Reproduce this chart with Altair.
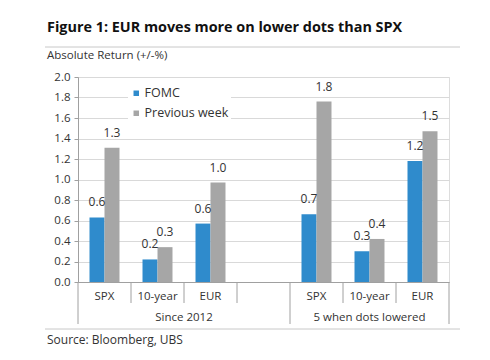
import altair as alt
import pandas as pd

# ---- data ----
slots = ["s1", "s2", "s3", "s4", "s5", "s6", "s7"]
categories = ["SPX", "10-year", "EUR", "", "SPX", "10-year", "EUR"]
groups = ["Since 2012"] * 4 + ["5 when dots lowered"] * 3
fomc = [0.63, 0.22, 0.57, None, 0.66, 0.30, 1.18]
prev = [1.31, 0.34, 0.97, None, 1.76, 0.42, 1.47]
series_names = ["FOMC", "Previous week"]
title_text = "Figure 1: EUR moves more on lower dots than SPX"
ytitle_text = "Absolute Return (+/-%)"
source_text = "Source: Bloomberg, UBS"
y_ticks = [0.0, 0.2, 0.4, 0.6, 0.8, 1.0, 1.2, 1.4, 1.6, 1.8, 2.0]

FONT = "Open Sans"
TXT = "#333333"
BLUE = "#2F8BCC"
GRAY = "#A6A6A6"
AXC = "#A0A0A0"

rows = []
for s, c, g, a, b in zip(slots, categories, groups, fomc, prev):
    if a is not None:
        rows.append({"slot": s, "cat": c, "group": g, "series": series_names[0], "value": a})
        rows.append({"slot": s, "cat": c, "group": g, "series": series_names[1], "value": b})
bars_df = pd.DataFrame(rows)

cats_df = pd.DataFrame({"slot": slots, "cat": categories, "group": groups})

# separators: long where a group starts, short otherwise
sep_rows = []
for i, (s, g) in enumerate(zip(slots, groups)):
    long = i == 0 or groups[i - 1] != g
    sep_rows.append({"slot": s, "kind": "long" if long else "short"})
sep_df = pd.DataFrame(sep_rows)
last_df = pd.DataFrame({"slot": [slots[-1]]})

xscale = alt.Scale(domain=slots, paddingInner=0, paddingOuter=0)
xoff_scale = alt.Scale(domain=series_names, paddingInner=0, paddingOuter=0.767)
yscale = alt.Scale(domain=[0, 2])

xaxis = alt.Axis(labels=False, ticks=False, title=None, domainColor=AXC, grid=False)
yaxis = alt.Axis(values=y_ticks, tickCount=20, format=".1f", title=None, grid=True, gridColor="#D9D9D9",
                 domainColor=AXC, tickColor=AXC, tickSize=4, labelPadding=4,
                 labelOverlap=False, labelFont=FONT, labelFontSize=11.5, labelColor=TXT)
X = alt.X("slot:N", scale=xscale, axis=xaxis)
Y = alt.Y("value:Q", scale=yscale, axis=yaxis)

bars = alt.Chart(bars_df).mark_bar().encode(
    x=X,
    xOffset=alt.XOffset("series:N", scale=xoff_scale),
    y=Y,
    color=alt.Color("series:N", scale=alt.Scale(domain=series_names, range=[BLUE, GRAY]),
                    legend=alt.Legend(title=None, orient="none", legendX=50, legendY=8,
                                      symbolType="square", symbolSize=30, symbolStrokeWidth=0,
                                      labelFont=FONT, labelFontSize=12.5, labelColor=TXT,
                                      labelOffset=2, rowPadding=7, fillColor="white", padding=2)),
)

labels = alt.Chart(bars_df).mark_text(font=FONT, fontSize=12, color=TXT, dy=-8, baseline="bottom").encode(
    x=X,
    xOffset=alt.XOffset("series:N", scale=xoff_scale),
    y=Y,
    text=alt.Text("value:Q", format=".1f"),
)

cat_text = alt.Chart(cats_df).mark_text(font=FONT, fontSize=11.5, color=TXT, baseline="alphabetic").encode(
    x=X,
    y=alt.value(223),
    text="cat:N",
)

seps_short = alt.Chart(sep_df).transform_filter("datum.kind == 'short'").mark_rule(color=AXC).encode(
    x=alt.X("slot:N", scale=xscale, axis=xaxis, bandPosition=0), y=alt.value(205), y2=alt.value(226))
seps_long = alt.Chart(sep_df).transform_filter("datum.kind == 'long'").mark_rule(color=AXC).encode(
    x=alt.X("slot:N", scale=xscale, axis=xaxis, bandPosition=0), y=alt.value(205), y2=alt.value(247))
sep_end = alt.Chart(last_df).mark_rule(color=AXC).encode(
    x=alt.X("slot:N", scale=xscale, axis=xaxis, bandPosition=1), y=alt.value(205), y2=alt.value(247))

g1 = alt.Chart(pd.DataFrame({"slot": [slots[2]], "t": [groups[0]]})).mark_text(
    font=FONT, fontSize=11.5, color=TXT, baseline="alphabetic").encode(
    x=alt.X("slot:N", scale=xscale, axis=xaxis, bandPosition=0), y=alt.value(244), text="t:N")
g2 = alt.Chart(pd.DataFrame({"slot": [slots[5]], "t": [groups[-1]]})).mark_text(
    font=FONT, fontSize=11.5, color=TXT, baseline="alphabetic").encode(
    x=X, y=alt.value(244), text="t:N")

title = alt.Chart(pd.DataFrame({"t": [title_text]})).mark_text(
    font=FONT, fontSize=14.4, fontWeight="bold", color="#111111", align="left", baseline="alphabetic").encode(
    x=alt.value(-31), y=alt.value(-45), text="t:N")
ytitle = alt.Chart(pd.DataFrame({"t": [ytitle_text]})).mark_text(
    font=FONT, fontSize=11.5, color=TXT, align="left", baseline="alphabetic").encode(
    x=alt.value(-31), y=alt.value(-18), text="t:N")
source = alt.Chart(pd.DataFrame({"t": [source_text]})).mark_text(
    font=FONT, fontSize=12, color=TXT, align="left", baseline="alphabetic").encode(
    x=alt.value(-31), y=alt.value(267), text="t:N")

topline = alt.Chart(pd.DataFrame({"v": [0]})).mark_rule(color="#C8C8C8").encode(
    x=alt.value(-33), x2=alt.value(382), y=alt.value(-30))
botline = alt.Chart(pd.DataFrame({"v": [0]})).mark_rule(color="#C8C8C8").encode(
    x=alt.value(-33), x2=alt.value(382), y=alt.value(252))

chart = alt.layer(
    bars, labels, cat_text, seps_short, seps_long, sep_end, g1, g2,
    title, ytitle, source, topline, botline,
).properties(
    width=371, height=205,
    padding={"left": 70, "top": 69, "right": 20, "bottom": 66},
    autosize=alt.AutoSizeParams(type="none"),
).configure_view(stroke=None).configure(background="white")

chart.save("out.html", embed_options={"renderer": "svg", "actions": False})
